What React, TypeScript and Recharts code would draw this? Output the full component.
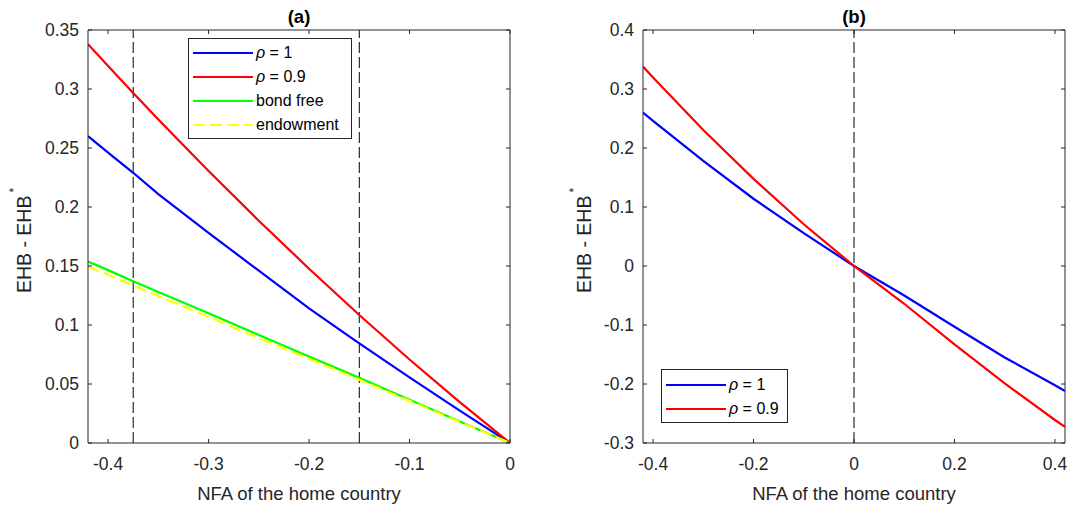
import { Label, Legend, Line, LineChart, ReferenceLine, XAxis, YAxis } from "recharts";

// panel (a): debtor side only
const nfaA = [-0.42, -0.4, -0.375, -0.35, -0.3, -0.25, -0.2, -0.15, -0.1, -0.05, 0];
const rho1A = [0.26, 0.246, 0.229, 0.211, 0.178, 0.146, 0.114, 0.0845, 0.0556, 0.0275, 0];
const rho09A = [0.338, 0.3195, 0.2967, 0.2742, 0.2305, 0.1884, 0.1477, 0.1085, 0.0708, 0.0347, 0];
const bondFreeA = [0.1538, 0.1465, 0.137, 0.128, 0.11, 0.0915, 0.0733, 0.0552, 0.0367, 0.0183, 0];
const endowmentA = [0.1495, 0.1425, 0.1335, 0.1245, 0.107, 0.089, 0.0713, 0.0537, 0.0357, 0.0178, 0];
const xTicksA = [-0.4, -0.3, -0.2, -0.1, 0];
const yTicksA = [0, 0.05, 0.1, 0.15, 0.2, 0.25, 0.3, 0.35];
const cutoffsA = [-0.375, -0.15];

// panel (b): both sides
const nfaB = [-0.42, -0.4, -0.3, -0.2, -0.1, 0, 0.1, 0.2, 0.3, 0.4, 0.42];
const rho1B = [0.26, 0.246, 0.178, 0.114, 0.0556, 0, -0.05, -0.103, -0.155, -0.202, -0.212];
const rho09B = [0.338, 0.3195, 0.2305, 0.1477, 0.0708, 0, -0.064, -0.133, -0.199, -0.261, -0.2725];
const xTicksB = [-0.4, -0.2, 0, 0.2, 0.4];
const yTicksB = [-0.3, -0.2, -0.1, 0, 0.1, 0.2, 0.3, 0.4];

const legendOrder = ["ρ = 1", "ρ = 0.9", "bond free", "endowment"];

const AXIS = "#262626";
const FONT = "'Liberation Sans', Arial, Helvetica, sans-serif";
const TICK = { fill: AXIS, fontSize: 17.5 };
const LW = 2.2;

const rowsA = nfaA.map((x, i) => ({
  x,
  rho1: rho1A[i],
  rho09: rho09A[i],
  bond: bondFreeA[i],
  endow: endowmentA[i],
}));
const rowsB = nfaB.map((x, i) => ({ x, rho1: rho1B[i], rho09: rho09B[i] }));

function legendText(value: string) {
  if (value.startsWith("ρ")) {
    return (
      <>
        <i>ρ</i>
        {value.slice(1)}
      </>
    );
  }
  return value;
}

const makeLegend = (w: number, h: number, padTop: number) => (props: any) => {
  const items = [...(props.payload ?? [])].sort(
    (a: any, b: any) => legendOrder.indexOf(a.value) - legendOrder.indexOf(b.value)
  );
  return (
    <div
      style={{
        width: w,
        height: h,
        boxSizing: "border-box",
        border: `1px solid ${AXIS}`,
        background: "#fff",
        paddingTop: padTop,
      }}
    >
      {items.map((entry: any) => (
        <div key={entry.value} style={{ display: "flex", alignItems: "center", height: 24 }}>
          <svg width={67} height={24} style={{ flex: "none" }}>
            <line
              x1={4}
              x2={64}
              y1={12}
              y2={12}
              stroke={entry.color}
              strokeWidth={LW}
              strokeDasharray={entry.payload?.strokeDasharray}
            />
          </svg>
          <span style={{ fontSize: 16, color: "#000", whiteSpace: "nowrap", lineHeight: "24px" }}>
            {legendText(entry.value)}
          </span>
        </div>
      ))}
    </div>
  );
};

const yLabel = (gap: number) => (props: any) => {
  const vb = props.viewBox;
  const cx = vb.x + vb.width - gap;
  const cy = vb.y + vb.height / 2 + 4;
  return (
    <text
      x={cx}
      y={cy}
      transform={`rotate(-90 ${cx} ${cy})`}
      textAnchor="middle"
      fontSize={19.5}
      fill={AXIS}
    >
      EHB - EHB
      <tspan dx={3} dy={-13} fontSize={12}>
        *
      </tspan>
    </text>
  );
};

const noLabel = () => <g />;

function Frame({
  xDomain,
  yDomain,
  xTicks,
  yTicks,
  title,
  labelGap,
}: {
  xDomain: number[];
  yDomain: number[];
  xTicks: number[];
  yTicks: number[];
  title: string;
  labelGap: number;
}) {
  return [
    <XAxis
      key="xb"
      type="number"
      dataKey="x"
      domain={xDomain}
      ticks={xTicks}
      interval={0}
      allowDataOverflow
      height={1}
      stroke={AXIS}
      tickSize={-4}
      tickMargin={19}
      tick={TICK}
    >
      <Label value="NFA of the home country" position="bottom" offset={43} fontSize={18.5} fill={AXIS} />
    </XAxis>,
    <XAxis
      key="xt"
      xAxisId="top"
      orientation="top"
      type="number"
      dataKey="x"
      domain={xDomain}
      ticks={xTicks}
      interval={0}
      allowDataOverflow
      height={1}
      stroke={AXIS}
      tickSize={-4}
      tick={noLabel}
    >
      <Label value={title} position="top" offset={6} fontSize={18.5} fontWeight="bold" fill="#000" />
    </XAxis>,
    <YAxis
      key="yl"
      type="number"
      domain={yDomain}
      ticks={yTicks}
      interval={0}
      allowDataOverflow
      width={1}
      stroke={AXIS}
      tickSize={-4}
      tickMargin={13}
      tick={TICK}
    >
      <Label content={yLabel(labelGap)} />
    </YAxis>,
    <YAxis
      key="yr"
      yAxisId="right"
      orientation="right"
      type="number"
      domain={yDomain}
      ticks={yTicks}
      interval={0}
      allowDataOverflow
      width={1}
      stroke={AXIS}
      tickSize={-4}
      tick={noLabel}
    />,
  ];
}

export default function App() {
  return (
    <div
      style={{
        position: "absolute",
        left: 0,
        top: 0,
        width: 1073,
        height: 507,
        background: "#fff",
        fontFamily: FONT,
      }}
    >
      <div style={{ position: "absolute", left: 0, top: 0 }}>
        <LineChart width={540} height={507} data={rowsA} margin={{ top: 29, right: 29, bottom: 63, left: 87 }}>
          {Frame({
            xDomain: [-0.42, 0],
            yDomain: [0, 0.35],
            xTicks: xTicksA,
            yTicks: yTicksA,
            title: "(a)",
            labelGap: 57,
          })}
          {cutoffsA.map((c) => (
            <ReferenceLine key={c} x={c} stroke="#000" strokeWidth={1} strokeDasharray="11 4" />
          ))}
          <Line type="linear" dataKey="rho1" name="ρ = 1" stroke="#0000ff" strokeWidth={LW} dot={false} isAnimationActive={false} />
          <Line type="linear" dataKey="rho09" name="ρ = 0.9" stroke="#ff0000" strokeWidth={LW} dot={false} isAnimationActive={false} />
          <Line type="linear" dataKey="bond" name="bond free" stroke="#00ff00" strokeWidth={LW} dot={false} isAnimationActive={false} />
          <Line
            type="linear"
            dataKey="endow"
            name="endowment"
            stroke="#ffff00"
            strokeWidth={LW}
            strokeDasharray="12 5"
            dot={false}
            isAnimationActive={false}
          />
          <Legend
            layout="vertical"
            align="center"
            verticalAlign="middle"
            content={makeLegend(164, 101, 2)}
            wrapperStyle={{ left: 188, top: 38, width: 164, height: 101 }}
          />
        </LineChart>
      </div>
      <div style={{ position: "absolute", left: 540, top: 0 }}>
        <LineChart width={533} height={507} data={rowsB} margin={{ top: 29, right: 7, bottom: 63, left: 102 }}>
          {Frame({
            xDomain: [-0.42, 0.42],
            yDomain: [-0.3, 0.4],
            xTicks: xTicksB,
            yTicks: yTicksB,
            title: "(b)",
            labelGap: 52,
          })}
          <ReferenceLine x={0} stroke="#000" strokeWidth={1} strokeDasharray="11 4" />
          <Line type="linear" dataKey="rho1" name="ρ = 1" stroke="#0000ff" strokeWidth={LW} dot={false} isAnimationActive={false} />
          <Line type="linear" dataKey="rho09" name="ρ = 0.9" stroke="#ff0000" strokeWidth={LW} dot={false} isAnimationActive={false} />
          <Legend
            layout="vertical"
            align="center"
            verticalAlign="middle"
            content={makeLegend(127, 54, 3)}
            wrapperStyle={{ left: 121, top: 369, width: 127, height: 54 }}
          />
        </LineChart>
      </div>
    </div>
  );
}
